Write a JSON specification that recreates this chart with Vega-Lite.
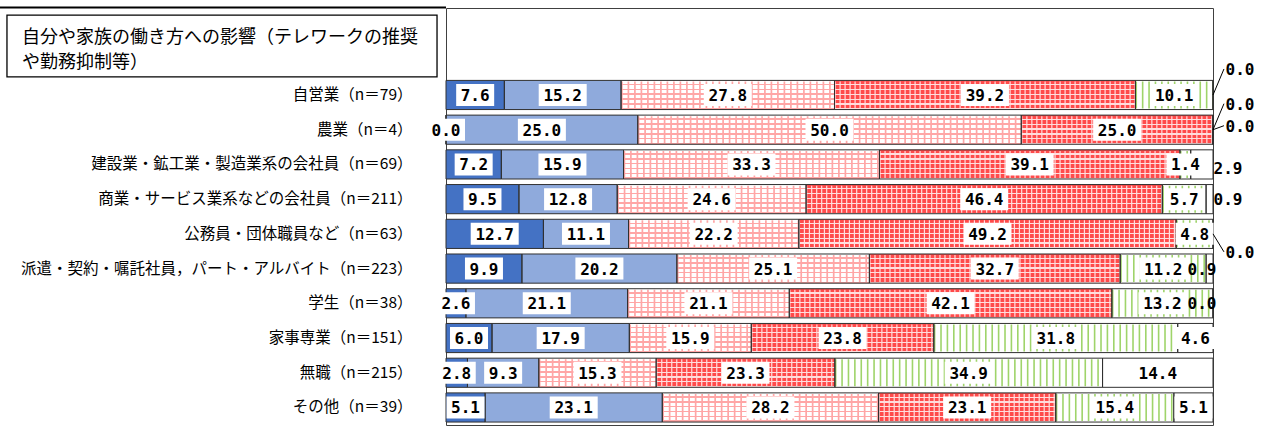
{
  "$schema": "https://vega.github.io/schema/vega-lite/v6.json",
  "width": 767,
  "height": 417,
  "autosize": {"type": "none"},
  "padding": {"left": 446, "top": 8, "right": 58, "bottom": 1},
  "background": "white",
  "config": {
    "view": {"stroke": "#404040", "strokeWidth": 1},
    "text": {"font": "DejaVu Sans Mono"}
  },
  "data": {
    "values": [
      {"cat": "自営業（n＝79）", "k": 1, "v": 7.6}, {"cat": "自営業（n＝79）", "k": 2, "v": 15.2}, {"cat": "自営業（n＝79）", "k": 3, "v": 27.8}, {"cat": "自営業（n＝79）", "k": 4, "v": 39.2}, {"cat": "自営業（n＝79）", "k": 5, "v": 10.1}, {"cat": "自営業（n＝79）", "k": 6, "v": 0.0},
      {"cat": "農業（n＝4）", "k": 1, "v": 0.0}, {"cat": "農業（n＝4）", "k": 2, "v": 25.0}, {"cat": "農業（n＝4）", "k": 3, "v": 50.0}, {"cat": "農業（n＝4）", "k": 4, "v": 25.0}, {"cat": "農業（n＝4）", "k": 5, "v": 0.0}, {"cat": "農業（n＝4）", "k": 6, "v": 0.0},
      {"cat": "建設業・鉱工業・製造業系の会社員（n＝69）", "k": 1, "v": 7.2}, {"cat": "建設業・鉱工業・製造業系の会社員（n＝69）", "k": 2, "v": 15.9}, {"cat": "建設業・鉱工業・製造業系の会社員（n＝69）", "k": 3, "v": 33.3}, {"cat": "建設業・鉱工業・製造業系の会社員（n＝69）", "k": 4, "v": 39.1}, {"cat": "建設業・鉱工業・製造業系の会社員（n＝69）", "k": 5, "v": 1.4}, {"cat": "建設業・鉱工業・製造業系の会社員（n＝69）", "k": 6, "v": 2.9},
      {"cat": "商業・サービス業系などの会社員（n＝211）", "k": 1, "v": 9.5}, {"cat": "商業・サービス業系などの会社員（n＝211）", "k": 2, "v": 12.8}, {"cat": "商業・サービス業系などの会社員（n＝211）", "k": 3, "v": 24.6}, {"cat": "商業・サービス業系などの会社員（n＝211）", "k": 4, "v": 46.4}, {"cat": "商業・サービス業系などの会社員（n＝211）", "k": 5, "v": 5.7}, {"cat": "商業・サービス業系などの会社員（n＝211）", "k": 6, "v": 0.9},
      {"cat": "公務員・団体職員など（n＝63）", "k": 1, "v": 12.7}, {"cat": "公務員・団体職員など（n＝63）", "k": 2, "v": 11.1}, {"cat": "公務員・団体職員など（n＝63）", "k": 3, "v": 22.2}, {"cat": "公務員・団体職員など（n＝63）", "k": 4, "v": 49.2}, {"cat": "公務員・団体職員など（n＝63）", "k": 5, "v": 4.8}, {"cat": "公務員・団体職員など（n＝63）", "k": 6, "v": 0.0},
      {"cat": "派遣・契約・嘱託社員，パート・アルバイト（n＝223）", "k": 1, "v": 9.9}, {"cat": "派遣・契約・嘱託社員，パート・アルバイト（n＝223）", "k": 2, "v": 20.2}, {"cat": "派遣・契約・嘱託社員，パート・アルバイト（n＝223）", "k": 3, "v": 25.1}, {"cat": "派遣・契約・嘱託社員，パート・アルバイト（n＝223）", "k": 4, "v": 32.7}, {"cat": "派遣・契約・嘱託社員，パート・アルバイト（n＝223）", "k": 5, "v": 11.2}, {"cat": "派遣・契約・嘱託社員，パート・アルバイト（n＝223）", "k": 6, "v": 0.9},
      {"cat": "学生（n＝38）", "k": 1, "v": 2.6}, {"cat": "学生（n＝38）", "k": 2, "v": 21.1}, {"cat": "学生（n＝38）", "k": 3, "v": 21.1}, {"cat": "学生（n＝38）", "k": 4, "v": 42.1}, {"cat": "学生（n＝38）", "k": 5, "v": 13.2}, {"cat": "学生（n＝38）", "k": 6, "v": 0.0},
      {"cat": "家事専業（n＝151）", "k": 1, "v": 6.0}, {"cat": "家事専業（n＝151）", "k": 2, "v": 17.9}, {"cat": "家事専業（n＝151）", "k": 3, "v": 15.9}, {"cat": "家事専業（n＝151）", "k": 4, "v": 23.8}, {"cat": "家事専業（n＝151）", "k": 5, "v": 31.8}, {"cat": "家事専業（n＝151）", "k": 6, "v": 4.6},
      {"cat": "無職（n＝215）", "k": 1, "v": 2.8}, {"cat": "無職（n＝215）", "k": 2, "v": 9.3}, {"cat": "無職（n＝215）", "k": 3, "v": 15.3}, {"cat": "無職（n＝215）", "k": 4, "v": 23.3}, {"cat": "無職（n＝215）", "k": 5, "v": 34.9}, {"cat": "無職（n＝215）", "k": 6, "v": 14.4},
      {"cat": "その他（n＝39）", "k": 1, "v": 5.1}, {"cat": "その他（n＝39）", "k": 2, "v": 23.1}, {"cat": "その他（n＝39）", "k": 3, "v": 28.2}, {"cat": "その他（n＝39）", "k": 4, "v": 23.1}, {"cat": "その他（n＝39）", "k": 5, "v": 15.4}, {"cat": "その他（n＝39）", "k": 6, "v": 5.1}
    ]
  },
  "transform": [
    {"stack": "v", "groupby": ["cat"], "sort": [{"field": "k", "order": "ascending"}], "offset": "normalize", "as": ["x0", "x1"]},
    {"calculate": "(datum.x0 + datum.x1) / 2", "as": "mid"},
    {"calculate": "format(datum.v, '.1f')", "as": "lab"},
    {"calculate": "datum.k >= 5 && datum.x0 > 0.97 && datum.v < 3", "as": "out"},
    {"calculate": "(indexof(datum.cat, '派遣') == 0 || indexof(datum.cat, '学生') == 0) ? -11 : (datum.v == 0 ? 27 : 15)", "as": "opx"},
    {"calculate": "datum.out ? 1 + datum.opx / 767 : datum.mid", "as": "lx"},
    {"calculate": "!datum.out ? 0 : indexof(datum.cat, '自営業') == 0 ? -26 : indexof(datum.cat, '農業') == 0 ? (datum.k == 5 ? -26 : -4) : indexof(datum.cat, '公務員') == 0 ? 18 : indexof(datum.cat, '建設') == 0 ? 4 : 0", "as": "ldy"},
    {"calculate": "(length(datum.lab) * 10 + 8) / 2 / 767", "as": "hw"},
    {"calculate": "datum.mid - datum.hw", "as": "bx0"},
    {"calculate": "datum.mid + datum.hw", "as": "bx1"}
  ],
  "layer": [
    {
      "mark": {"type": "bar", "stroke": null},
      "transform": [{"filter": "datum.k == 1 || datum.k == 2 || datum.k == 5 || datum.k == 6"}],
      "encoding": {
        "x": {"field": "x0", "type": "quantitative", "scale": {"domain": [0, 1], "nice": false, "zero": false}, "axis": null},
        "x2": {"field": "x1"},
        "y": {
          "field": "cat", "type": "nominal",
          "scale": {
            "domain": ["_1", "_2", "自営業（n＝79）", "農業（n＝4）", "建設業・鉱工業・製造業系の会社員（n＝69）", "商業・サービス業系などの会社員（n＝211）", "公務員・団体職員など（n＝63）", "派遣・契約・嘱託社員，パート・アルバイト（n＝223）", "学生（n＝38）", "家事専業（n＝151）", "無職（n＝215）", "その他（n＝39）"],
            "paddingInner": 0.16, "paddingOuter": 0.085
          },
          "axis": {
            "title": null, "domain": false, "ticks": false,
            "labelFont": "Noto Sans CJK JP", "labelFontSize": 15.5, "labelColor": "#000000",
            "labelPadding": 34, "labelLimit": 600,
            "labelExpr": "indexof(datum.value, '_') == 0 ? '' : datum.value"
          }
        },
        "color": {"field": "k", "type": "nominal", "scale": {"domain": [1, 2, 5, 6], "range": ["#4472c4", "#8faadc", "#ffffff", "#ffffff"]}, "legend": null}
      }
    },
    {
      "mark": {
        "type": "bar", "stroke": null,
        "fill": {"gradient": "linear", "x1": 0, "y1": 0, "x2": 0, "y2": 1, "stops": [
          {"offset": 0, "color": "#ffffff"}, {"offset": 0.112, "color": "#ffffff"}, {"offset": 0.112, "color": "#ffa6a6"}, {"offset": 0.1667, "color": "#ffa6a6"},
          {"offset": 0.1667, "color": "#ffffff"}, {"offset": 0.2787, "color": "#ffffff"}, {"offset": 0.2787, "color": "#ffa6a6"}, {"offset": 0.3333, "color": "#ffa6a6"},
          {"offset": 0.3333, "color": "#ffffff"}, {"offset": 0.4453, "color": "#ffffff"}, {"offset": 0.4453, "color": "#ffa6a6"}, {"offset": 0.5, "color": "#ffa6a6"},
          {"offset": 0.5, "color": "#ffffff"}, {"offset": 0.612, "color": "#ffffff"}, {"offset": 0.612, "color": "#ffa6a6"}, {"offset": 0.6667, "color": "#ffa6a6"},
          {"offset": 0.6667, "color": "#ffffff"}, {"offset": 0.7787, "color": "#ffffff"}, {"offset": 0.7787, "color": "#ffa6a6"}, {"offset": 0.8333, "color": "#ffa6a6"},
          {"offset": 0.8333, "color": "#ffffff"}, {"offset": 0.9453, "color": "#ffffff"}, {"offset": 0.9453, "color": "#ffa6a6"}, {"offset": 1, "color": "#ffa6a6"}
        ]}
      },
      "transform": [{"filter": "datum.k == 3"}],
      "encoding": {
        "x": {"field": "x0", "type": "quantitative"},
        "x2": {"field": "x1"},
        "y": {"field": "cat", "type": "nominal"}
      }
    },
    {
      "mark": {
        "type": "bar", "stroke": null,
        "fill": {"gradient": "linear", "x1": 0, "y1": 0, "x2": 0, "y2": 1, "stops": [
          {"offset": 0, "color": "#ff4b4b"}, {"offset": 0.125, "color": "#ff4b4b"}, {"offset": 0.125, "color": "#ffdede"}, {"offset": 0.1667, "color": "#ffdede"},
          {"offset": 0.1667, "color": "#ff4b4b"}, {"offset": 0.2917, "color": "#ff4b4b"}, {"offset": 0.2917, "color": "#ffdede"}, {"offset": 0.3333, "color": "#ffdede"},
          {"offset": 0.3333, "color": "#ff4b4b"}, {"offset": 0.4583, "color": "#ff4b4b"}, {"offset": 0.4583, "color": "#ffdede"}, {"offset": 0.5, "color": "#ffdede"},
          {"offset": 0.5, "color": "#ff4b4b"}, {"offset": 0.625, "color": "#ff4b4b"}, {"offset": 0.625, "color": "#ffdede"}, {"offset": 0.6667, "color": "#ffdede"},
          {"offset": 0.6667, "color": "#ff4b4b"}, {"offset": 0.7917, "color": "#ff4b4b"}, {"offset": 0.7917, "color": "#ffdede"}, {"offset": 0.8333, "color": "#ffdede"},
          {"offset": 0.8333, "color": "#ff4b4b"}, {"offset": 0.9583, "color": "#ff4b4b"}, {"offset": 0.9583, "color": "#ffdede"}, {"offset": 1, "color": "#ffdede"}
        ]}
      },
      "transform": [{"filter": "datum.k == 4"}],
      "encoding": {
        "x": {"field": "x0", "type": "quantitative"},
        "x2": {"field": "x1"},
        "y": {"field": "cat", "type": "nominal"}
      }
    },
    {
      "mark": {"type": "rule", "stroke": "#ffa6a6", "strokeWidth": 27, "strokeDash": [1.7, 4.8], "strokeCap": "butt"},
      "transform": [{"filter": "datum.k == 3 && datum.v > 0"}],
      "encoding": {
        "x": {"field": "x0", "type": "quantitative"},
        "x2": {"field": "x1"},
        "y": {"field": "cat", "type": "nominal"}
      }
    },
    {
      "mark": {"type": "rule", "stroke": "#ffdede", "strokeWidth": 27, "strokeDash": [1.2, 3.8], "strokeCap": "butt"},
      "transform": [{"filter": "datum.k == 4 && datum.v > 0"}],
      "encoding": {
        "x": {"field": "x0", "type": "quantitative"},
        "x2": {"field": "x1"},
        "y": {"field": "cat", "type": "nominal"}
      }
    },
    {
      "mark": {"type": "rule", "stroke": "#9fd46a", "strokeWidth": 27, "strokeDash": [1.6, 4.8], "strokeCap": "butt"},
      "transform": [{"filter": "datum.k == 5 && datum.v > 0"}],
      "encoding": {
        "x": {"field": "x0", "type": "quantitative"},
        "x2": {"field": "x1"},
        "y": {"field": "cat", "type": "nominal"}
      }
    },
    {
      "mark": {"type": "bar", "fill": "#ffffff", "fillOpacity": 0, "stroke": "#303030", "strokeWidth": 1},
      "encoding": {
        "x": {"field": "x0", "type": "quantitative"},
        "x2": {"field": "x1"},
        "y": {"field": "cat", "type": "nominal"}
      }
    },
    {
      "mark": {"type": "bar", "fill": "#ffffff", "stroke": null, "height": 22},
      "transform": [{"filter": "!datum.out"}],
      "encoding": {
        "x": {"field": "bx0", "type": "quantitative"},
        "x2": {"field": "bx1"},
        "y": {"field": "cat", "type": "nominal"}
      }
    },
    {
      "mark": {"type": "rule", "stroke": "#000000", "strokeWidth": 1, "y2Offset": {"expr": "datum.ldy"}},
      "transform": [{"filter": "datum.out && datum.v == 0 && datum.ldy != 0"}],
      "encoding": {
        "x": {"datum": 1, "type": "quantitative"},
        "x2": {"datum": 1.0143},
        "y": {"field": "cat", "type": "nominal"},
        "y2": {"field": "cat"}
      }
    },
    {
      "mark": {"type": "text", "font": "DejaVu Sans Mono", "fontSize": 16, "fontWeight": "bold", "color": "#000000", "align": "center", "baseline": "middle",
        "dy": {"expr": "datum.ldy + 1"}},
      "encoding": {
        "x": {"field": "lx", "type": "quantitative"},
        "y": {"field": "cat", "type": "nominal"},
        "text": {"field": "lab"}
      }
    },
    {
      "data": {"values": [{}]},
      "mark": {"type": "rule", "stroke": "#000000", "strokeWidth": 2, "yOffset": -18},
      "encoding": {
        "x": {"datum": -0.5815, "type": "quantitative"},
        "x2": {"datum": 0},
        "y": {"datum": "_1", "type": "nominal"}
      }
    },
    {
      "data": {"values": [{}]},
      "mark": {"type": "rect", "fill": "#ffffff", "stroke": "#000000", "strokeWidth": 1.3, "yOffset": -10.5, "y2Offset": 16.7},
      "encoding": {
        "x": {"datum": -0.5724, "type": "quantitative"},
        "x2": {"datum": -0.0117},
        "y": {"datum": "_1", "type": "nominal"},
        "y2": {"datum": "_2"}
      }
    },
    {
      "data": {"values": [{}]},
      "mark": {"type": "text", "font": "Noto Sans CJK JP", "fontSize": 18, "align": "left", "baseline": "top", "lineHeight": 25, "dy": 3, "color": "#000000",
        "text": ["自分や家族の働き方への影響（テレワークの推奨", "や勤務抑制等）"]},
      "encoding": {
        "x": {"datum": -0.5528, "type": "quantitative"},
        "y": {"datum": "_1", "type": "nominal"}
      }
    }
  ]
}
